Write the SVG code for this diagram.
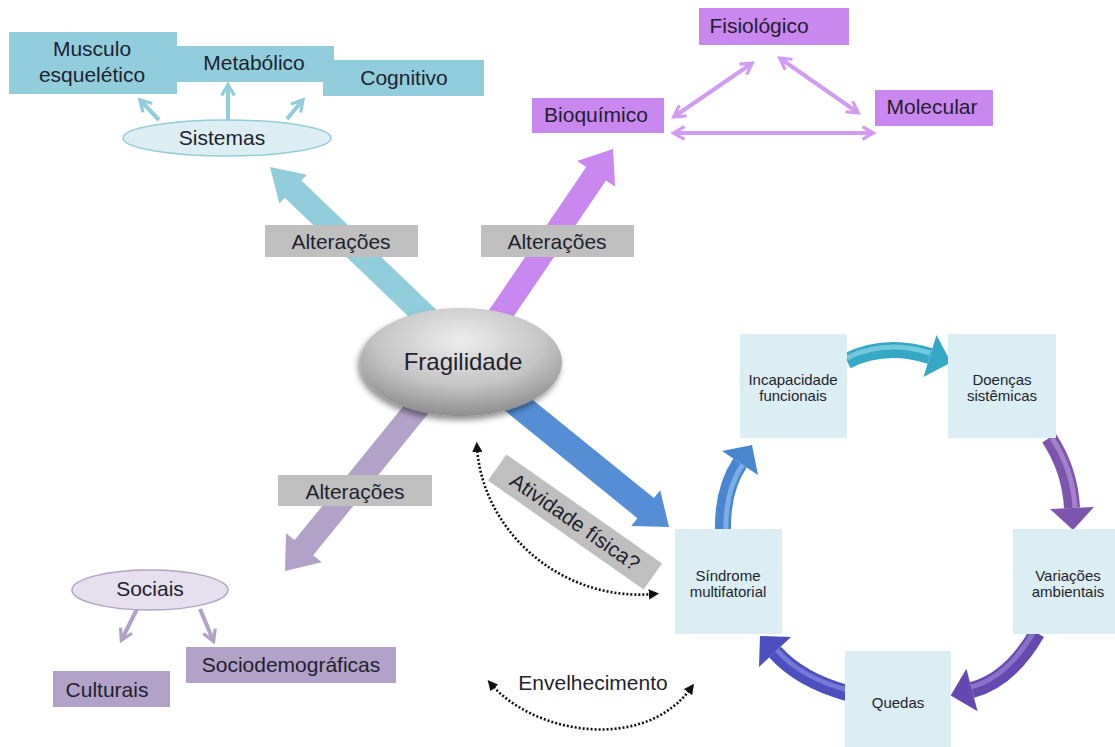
<svg xmlns="http://www.w3.org/2000/svg" width="1115" height="747" viewBox="0 0 1115 747">
<style>
  text { font-family: "Liberation Sans", Arial, sans-serif; fill: #1f1f2e; text-anchor: middle; }
  .lbl { font-size: 21px; }
  .sm { font-size: 15px; }
  .teal { fill: #92CDDC; }
  .purp { fill: #C987F0; }
  .lav { fill: #B3A2C7; }
  .gray { fill: #BFBFBF; }
  .cyc { fill: #DAEEF3; }
  .tl { stroke: #92CDDC; stroke-width: 4; fill: none; }
  .pl { stroke: #D39CF3; stroke-width: 4; fill: none; }
  .ll { stroke: #B3A2C7; stroke-width: 4; fill: none; }
  .dot { stroke: #111; stroke-width: 2.6; fill: none; stroke-dasharray: 2 2; }
  .shaft { fill: none; stroke-width: 16; stroke-linecap: butt; }
  .hl { fill: none; stroke-width: 5; stroke-opacity: 0.55; stroke-linecap: butt; }
</style>
<defs>
  <marker id="mT" viewBox="0 0 10 10" refX="7" refY="5" markerWidth="4" markerHeight="4" orient="auto-start-reverse">
    <path d="M1,1 L8,5 L1,9" fill="none" stroke="#92CDDC" stroke-width="2"/>
  </marker>
  <marker id="mP" viewBox="0 0 10 10" refX="7" refY="5" markerWidth="4" markerHeight="4" orient="auto-start-reverse">
    <path d="M1,1 L8,5 L1,9" fill="none" stroke="#D39CF3" stroke-width="2"/>
  </marker>
  <marker id="mL" viewBox="0 0 10 10" refX="7" refY="5" markerWidth="4" markerHeight="4" orient="auto-start-reverse">
    <path d="M1,1 L8,5 L1,9" fill="none" stroke="#B3A2C7" stroke-width="2"/>
  </marker>
  <marker id="mD" viewBox="0 0 10 10" refX="5" refY="5" markerWidth="4" markerHeight="4" orient="auto-start-reverse">
    <path d="M0,0 L10,5 L0,10 z" fill="#111"/>
  </marker>
  <radialGradient id="gFrag" cx="0.5" cy="0.3" r="0.7">
    <stop offset="0" stop-color="#EDEDED"/>
    <stop offset="0.6" stop-color="#C4C4C4"/>
    <stop offset="1" stop-color="#8E8E8E"/>
  </radialGradient>
  <filter id="shadow" x="-20%" y="-20%" width="140%" height="150%">
    <feGaussianBlur in="SourceAlpha" stdDeviation="3"/>
    <feOffset dx="-2" dy="4" result="b"/>
    <feComponentTransfer><feFuncA type="linear" slope="0.45"/></feComponentTransfer>
    <feMerge><feMergeNode/><feMergeNode in="SourceGraphic"/></feMerge>
  </filter>
</defs>
<rect width="1115" height="747" fill="#ffffff"/>

<!-- big arrows -->
<g id="connectors">
  <polygon fill="#92CDDC" points="270,167 307,174.7 301.4,180.4 448.3,321.3 431.7,338.7 284.8,197.8 279.3,203.5"/>
  <polygon fill="#C987F0" points="613,149 615.1,186.7 606,180.5 499.9,336.7 480.1,323.3 586.2,167.1 577.1,160.9"/>
  <polygon fill="#B3A2C7" points="285,571 286,533.2 294.6,540.1 430.7,372.4 449.3,387.6 313.2,555.3 321.8,562.2"/>
  <polygon fill="#558ED5" points="669,527 631.2,526 637.4,518.2 491.8,400.1 508.2,379.9 653.9,498 660.2,490.2"/>

  <!-- small connectors -->
  <line class="tl" x1="159" y1="120" x2="141" y2="101" marker-end="url(#mT)"/>
  <line class="tl" x1="228" y1="120" x2="228" y2="86" marker-end="url(#mT)"/>
  <line class="tl" x1="287" y1="119" x2="302" y2="101" marker-end="url(#mT)"/>

  <line class="pl" x1="675" y1="116" x2="751" y2="64" marker-start="url(#mP)" marker-end="url(#mP)"/>
  <line class="pl" x1="781" y1="59" x2="857" y2="112" marker-start="url(#mP)" marker-end="url(#mP)"/>
  <line class="pl" x1="675" y1="133" x2="872" y2="133" marker-start="url(#mP)" marker-end="url(#mP)"/>

  <line class="ll" x1="137" y1="609" x2="122" y2="639" marker-end="url(#mL)"/>
  <line class="ll" x1="200" y1="609" x2="213" y2="640" marker-end="url(#mL)"/>

  <path class="dot" d="M477,447 C482,530 560,602 654,594" marker-start="url(#mD)" marker-end="url(#mD)"/>
  <path class="dot" d="M491,684 C535,735 645,752 691,688" marker-start="url(#mD)" marker-end="url(#mD)"/>

  <!-- cycle arrows -->
  <g id="cyc1">
    <path class="shaft" stroke="#34A8C5" d="M847,361 Q885,342 930,356"/>
    <path class="hl" stroke="#A6E2F0" d="M847,358 Q885,339 930,353"/>
    <polygon fill="#34A8C5" points="951,362.5 923.5,377 936.5,335"/>
  </g>
  <g id="cyc2">
    <path class="shaft" stroke="#7E55AE" d="M1049,438 Q1070,470 1072,508"/>
    <path class="hl" stroke="#C3A8E2" d="M1052,438 Q1073,470 1075,508"/>
    <polygon fill="#7E55AE" points="1073,530 1050,509 1094,507"/>
  </g>
  <g id="cyc3">
    <path class="shaft" stroke="#6548B0" d="M1037,633 Q1010,680 972,690"/>
    <path class="hl" stroke="#A996E0" d="M1034,631 Q1008,677 971,687"/>
    <polygon fill="#6548B0" points="950.7,695.6 977.6,711.3 966.4,668.7"/>
  </g>
  <g id="cyc4">
    <path class="shaft" stroke="#4C50BE" d="M847,693 Q800,680 775,652"/>
    <path class="hl" stroke="#9599EA" d="M847,690 Q800,677 777,650"/>
    <polygon fill="#4C50BE" points="760,636 791,637 759,667"/>
  </g>
  <g id="cyc5">
    <path class="shaft" stroke="#4887D0" d="M723,531 Q722,490 740,463"/>
    <path class="hl" stroke="#A5CBF2" d="M726,531 Q725,490 743,464"/>
    <polygon fill="#4887D0" points="752,445 758,475 722,451"/>
  </g>
</g>

<!-- Alteracoes labels -->
<g id="alt1"><rect class="gray" x="265" y="225" width="153" height="32"/><text class="lbl" x="341" y="249">Alterações</text></g>
<g id="alt2"><rect class="gray" x="481" y="225" width="153" height="32"/><text class="lbl" x="557" y="249">Alterações</text></g>
<g id="alt3"><rect class="gray" x="278" y="475" width="154" height="31"/><text class="lbl" x="355" y="499">Alterações</text></g>

<!-- top-left blue -->
<g id="musculo"><rect class="teal" x="9" y="32" width="168" height="62"/><text class="lbl" x="92" y="56">Musculo</text><text class="lbl" x="92" y="82">esquelético</text></g>
<g id="metabolico"><rect class="teal" x="177" y="46" width="157" height="36"/><text class="lbl" x="254" y="70">Metabólico</text></g>
<g id="cognitivo"><rect class="teal" x="323" y="60" width="161" height="36"/><text class="lbl" x="404" y="85">Cognitivo</text></g>
<g id="sistemas"><ellipse cx="227" cy="138" rx="104" ry="18" fill="#DAEEF3" stroke="#92CDDC" stroke-width="1.5"/><text class="lbl" x="222" y="145">Sistemas</text></g>

<!-- top-right purple -->
<g id="fisiologico"><rect class="purp" x="699" y="8" width="150" height="37"/><text class="lbl" x="759" y="33">Fisiológico</text></g>
<g id="bioquimico"><rect class="purp" x="532" y="98" width="132" height="35"/><text class="lbl" x="596" y="122">Bioquímico</text></g>
<g id="molecular"><rect class="purp" x="875" y="90" width="118" height="36"/><text class="lbl" x="932" y="114">Molecular</text></g>

<!-- bottom-left lavender -->
<g id="sociais"><ellipse cx="150" cy="590" rx="78" ry="20" fill="#E5DFEE" stroke="#B3A2C7" stroke-width="1.5"/><text class="lbl" x="150" y="596">Sociais</text></g>
<g id="culturais"><rect class="lav" x="53" y="671" width="117" height="36"/><text class="lbl" x="107" y="697">Culturais</text></g>
<g id="sociodemograficas"><rect class="lav" x="186" y="647" width="210" height="36"/><text class="lbl" x="291" y="672">Sociodemográficas</text></g>

<!-- center -->
<g id="fragilidade"><ellipse cx="461" cy="362" rx="101" ry="54" fill="url(#gFrag)" filter="url(#shadow)"/><text x="463" y="370" font-size="24">Fragilidade</text></g>

<g id="atividade" transform="translate(575,522) rotate(35)"><rect class="gray" x="-95" y="-16" width="190" height="32"/><text class="lbl" x="0" y="7">Atividade física?</text></g>
<g id="envelhecimento"><text class="lbl" x="593" y="690">Envelhecimento</text></g>

<!-- cycle boxes -->
<g id="incapacidade"><rect class="cyc" x="740" y="334" width="107" height="104"/><text class="sm" x="793" y="385">Incapacidade</text><text class="sm" x="793" y="401">funcionais</text></g>
<g id="doencas"><rect class="cyc" x="948" y="334" width="108" height="104"/><text class="sm" x="1002" y="385">Doenças</text><text class="sm" x="1002" y="401">sistêmicas</text></g>
<g id="variacoes"><rect class="cyc" x="1013" y="529" width="102" height="105"/><text class="sm" x="1068" y="581">Variações</text><text class="sm" x="1068" y="597">ambientais</text></g>
<g id="quedas"><rect class="cyc" x="845" y="651" width="106" height="96"/><text class="sm" x="898" y="708">Quedas</text></g>
<g id="sindrome"><rect class="cyc" x="675" y="529" width="107" height="105"/><text class="sm" x="728" y="581">Síndrome</text><text class="sm" x="728" y="597">multifatorial</text></g>
</svg>
